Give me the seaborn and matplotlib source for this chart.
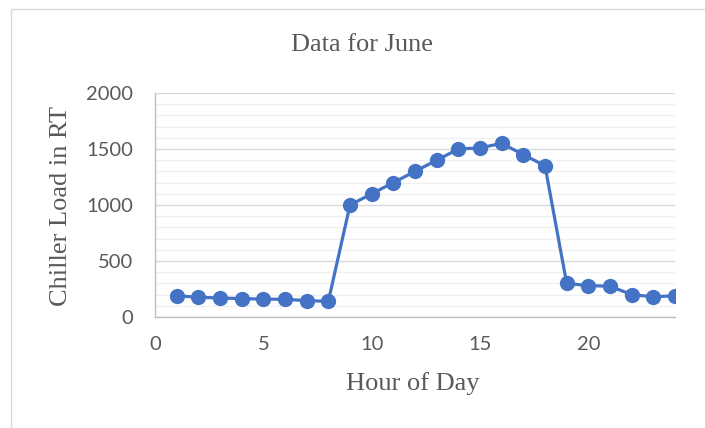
import numpy as np
import pandas as pd
import matplotlib
matplotlib.use("Agg")
import matplotlib.pyplot as plt
import seaborn as sns
from matplotlib.ticker import MultipleLocator

# Chiller load readings for June, one per hour
hours = list(range(1, 25))
load_rt = [190, 176, 170, 164, 160, 158, 146, 140, 1000, 1100, 1200, 1300,
           1400, 1500, 1510, 1550, 1450, 1350, 300, 280, 275, 200, 180, 190]

df = pd.DataFrame({"hour": hours, "load": load_rt})

sns.set_style("white")
fig = plt.figure(figsize=(7.05, 4.28), dpi=100)
ax = fig.add_axes([155 / 705, 1 - 317 / 428, 520 / 705, 224 / 428])

sns.lineplot(data=df, x="hour", y="load", ax=ax, color="#4472C4",
             linewidth=2.3, marker="o", markersize=11, markeredgewidth=0)

ax.set_xlim(0, 24)
ax.set_ylim(0, 2000)
ax.xaxis.set_major_locator(MultipleLocator(5))
ax.yaxis.set_major_locator(MultipleLocator(500))
ax.yaxis.set_minor_locator(MultipleLocator(100))

# gridlines like the spreadsheet chart
ax.grid(which="major", axis="y", color="#d9d9d9", linewidth=1)
ax.grid(which="minor", axis="y", color="#f0f0f0", linewidth=1)
ax.set_axisbelow(True)

for side in ["top", "right"]:
    ax.spines[side].set_visible(False)
for side in ["left", "bottom"]:
    ax.spines[side].set_color("#bfbfbf")
    ax.spines[side].set_linewidth(1)

ax.tick_params(axis="both", which="major", length=5.5, width=1, color="#bfbfbf",
               labelsize=14.5, labelcolor="#595959")
ax.tick_params(axis="y", which="major", pad=10.5)
ax.tick_params(axis="x", which="major", pad=8)
ax.tick_params(axis="y", which="minor", length=0)
for lbl in ax.get_xticklabels() + ax.get_yticklabels():
    lbl.set_family("Lato")

ax.set_xlabel("")
ax.set_ylabel("")
serif = dict(family="Liberation Serif", size=19, color="#595959")
fig.text(362 / 705, 1 - 45 / 428, "Data for June", ha="center", va="center", **serif)
fig.text(413 / 705, 1 - 384 / 428, "Hour of Day", ha="center", va="center", **serif)
fig.text(61 / 705, 1 - 206 / 428, "Chiller Load in RT", ha="center", va="center",
         rotation=90, **serif)

# chart area border (cropped at right and bottom)
fig.add_artist(plt.Rectangle((11 / 705, -0.1), 1.2, 1 - 9 / 428 + 0.1,
                             transform=fig.transFigure, fill=False,
                             edgecolor="#d9d9d9", linewidth=1))

fig.savefig("out.png", dpi=100)
